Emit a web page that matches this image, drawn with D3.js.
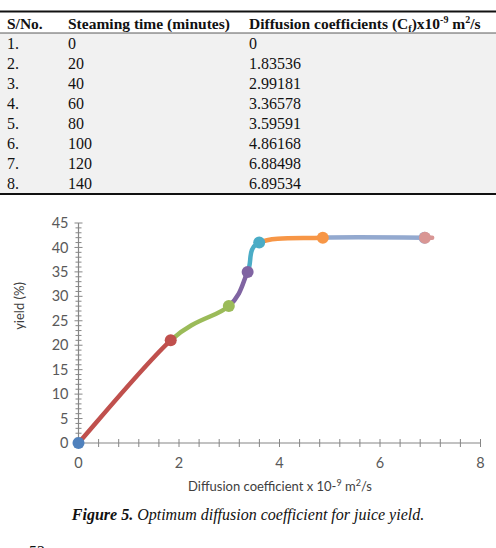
<!DOCTYPE html>
<html><head><meta charset="utf-8">
<script src="https://cdn.jsdelivr.net/npm/d3@7"></script>
<style>
html,body{margin:0;padding:0;background:#fff;}
svg{display:block;}
</style></head>
<body>
<svg id="chart" width="496" height="548"></svg>
<script>
// ---- data ----
const serialNos = ["1.","2.","3.","4.","5.","6.","7.","8."];
const steamingTimes = ["0","20","40","60","80","100","120","140"];
const diffusionLabels = ["0","1.83536","2.99181","3.36578","3.59591","4.86168","6.88498","6.89534"];
const diffusionCoeff = [0, 1.83536, 2.99181, 3.36578, 3.59591, 4.86168, 6.88498, 6.89534];
const yieldPct = [0, 21, 28, 35, 41, 42, 42, 42];
const pointColors = ["#4F81BD","#C0504D","#9BBB59","#8064A2","#4BACC6","#F79646","#93A9CF","#D99694"];
const xTickLabels = [0, 2, 4, 6, 8];
const yTickLabels = [0, 5, 10, 15, 20, 25, 30, 35, 40, 45];

const svg = d3.select("#chart");

// ---- table ----
const serif = "'Liberation Serif','Times New Roman',serif";
const colX = [7, 68, 249];
svg.append("rect").attr("x",0).attr("y",33).attr("width",496).attr("height",160).attr("fill","#f1f1f1");
svg.append("line").attr("x1",0).attr("x2",496).attr("y1",11.5).attr("y2",11.5).attr("stroke","#111").attr("stroke-width",2.2);
svg.append("line").attr("x1",0).attr("x2",496).attr("y1",33).attr("y2",33).attr("stroke","#333").attr("stroke-width",0.8);
svg.append("line").attr("x1",0).attr("x2",496).attr("y1",194).attr("y2",194).attr("stroke","#111").attr("stroke-width",2.2);

const hdr = svg.append("text").attr("y",29).attr("font-family",serif).attr("font-size",15.5).attr("font-weight","bold").attr("fill","#111");
hdr.append("tspan").attr("x",colX[0]).text("S/No.");
hdr.append("tspan").attr("x",colX[1]).text("Steaming time (minutes)");
hdr.append("tspan").attr("x",colX[2]).text("Diffusion coefficients (C");
hdr.append("tspan").attr("font-size",10).attr("dy",3).text("f");
hdr.append("tspan").attr("dy",-3).text(")x10");
hdr.append("tspan").attr("font-size",10).attr("dy",-6).text("-9");
hdr.append("tspan").attr("dy",6).text(" m");
hdr.append("tspan").attr("font-size",10).attr("dy",-6).text("2");
hdr.append("tspan").attr("dy",6).text("/s");

const rowY = d3.scaleBand().domain(d3.range(serialNos.length)).range([33,193]);
const rows = svg.append("g").attr("font-family",serif).attr("font-size",16).attr("fill","#111");
serialNos.forEach((s,i)=>{
  const yy = rowY(i) + rowY.bandwidth()/2 + 5.5;
  [s, steamingTimes[i], diffusionLabels[i]].forEach((t,j)=>{
    rows.append("text").attr("x",colX[j]).attr("y",yy).text(t);
  });
});

// ---- chart ----
const x = d3.scaleLinear().domain([0,8]).range([78.5,480.5]);
const y = d3.scaleLinear().domain([0,45]).range([443,223]);
const axisColor = "#868686";
const labelFont = "Lato,'Open Sans',sans-serif";

// y axis
const yAxisG = svg.append("g").attr("transform",`translate(${x(0)},0)`);
yAxisG.append("line").attr("x1",0).attr("x2",0).attr("y1",y(0)).attr("y2",y(45)).attr("stroke",axisColor).attr("stroke-width",1.2);
d3.range(0,46,1).forEach(v=>{
  const w = v%5===0 ? 4 : 3;
  yAxisG.append("line").attr("x1",-w).attr("x2",w).attr("y1",y(v)).attr("y2",y(v)).attr("stroke",axisColor).attr("stroke-width",1);
});
yAxisG.selectAll("text.yl").data(yTickLabels).join("text").attr("class","yl")
  .attr("x",-10).attr("y",d=>y(d)).attr("dy","0.35em").attr("text-anchor","end")
  .attr("font-family",labelFont).attr("font-size",14.5).attr("fill","#595959").text(d=>d);

// x axis
const xAxisG = svg.append("g").attr("transform",`translate(0,${y(0)})`);
xAxisG.append("line").attr("x1",x(0)).attr("x2",x(8)).attr("y1",0).attr("y2",0).attr("stroke",axisColor).attr("stroke-width",1.2);
d3.range(0,21).map(i=>i*0.4).forEach(v=>{
  xAxisG.append("line").attr("x1",x(v)).attr("x2",x(v)).attr("y1",-4).attr("y2",4).attr("stroke",axisColor).attr("stroke-width",1);
});
xAxisG.selectAll("text.xl").data(xTickLabels).join("text").attr("class","xl")
  .attr("x",d=>x(d)).attr("y",19.5).attr("dy","0.35em").attr("text-anchor","middle")
  .attr("font-family",labelFont).attr("font-size",14.5).attr("fill","#595959").text(d=>d);

// axis titles
const xt = svg.append("text").attr("x",280).attr("y",491).attr("text-anchor","middle")
  .attr("font-family",labelFont).attr("font-size",13).attr("fill","#404040");
xt.append("tspan").text("Diffusion coefficient x 10-");
xt.append("tspan").attr("font-size",9).attr("dy",-5).text("9");
xt.append("tspan").attr("dy",5).text(" m");
xt.append("tspan").attr("font-size",9).attr("dy",-5).text("2");
xt.append("tspan").attr("dy",5).text("/s");

svg.append("text").attr("transform","translate(24,306) rotate(-90)").attr("text-anchor","middle")
  .attr("font-family",labelFont).attr("font-size",13).attr("fill","#404040").text("yield (%)");

// smoothed line, each segment coloured by its end point (Catmull-Rom / cardinal tension 0)
const pts = diffusionCoeff.map((d,i)=>[x(d), y(yieldPct[i])]);
const lineG = svg.append("g").attr("fill","none").attr("stroke-width",4.5).attr("stroke-linecap","round");
for (let i=0;i<pts.length-1;i++){
  const p0 = pts[Math.max(i-1,0)], p1 = pts[i], p2 = pts[i+1], p3 = pts[Math.min(i+2,pts.length-1)];
  const c1 = [p1[0]+(p2[0]-p0[0])/6, p1[1]+(p2[1]-p0[1])/6];
  const c2 = [p2[0]-(p3[0]-p1[0])/6, p2[1]-(p3[1]-p1[1])/6];
  const path = d3.path();
  path.moveTo(p1[0],p1[1]);
  path.bezierCurveTo(c1[0],c1[1],c2[0],c2[1],p2[0],p2[1]);
  lineG.append("path").attr("d",path.toString()).attr("stroke",pointColors[i+1]);
}

// markers
svg.append("g").selectAll("circle").data(diffusionCoeff).join("circle")
  .attr("cx",d=>x(d)).attr("cy",(d,i)=>y(yieldPct[i])).attr("r",6)
  .attr("fill",(d,i)=>pointColors[i]);

// caption
const cap = svg.append("text").attr("x",248).attr("y",520).attr("text-anchor","middle")
  .attr("font-family",serif).attr("font-size",16).attr("font-style","italic").attr("fill","#111");
cap.append("tspan").attr("font-weight","bold").text("Figure 5.");
cap.append("tspan").text(" Optimum diffusion coefficient for juice yield.");

// page number (cut off at bottom edge, as in the source page)
svg.append("text").attr("x",29).attr("y",557).attr("font-family",serif).attr("font-size",16).attr("fill","#111").text("52");
</script>
</body></html>
